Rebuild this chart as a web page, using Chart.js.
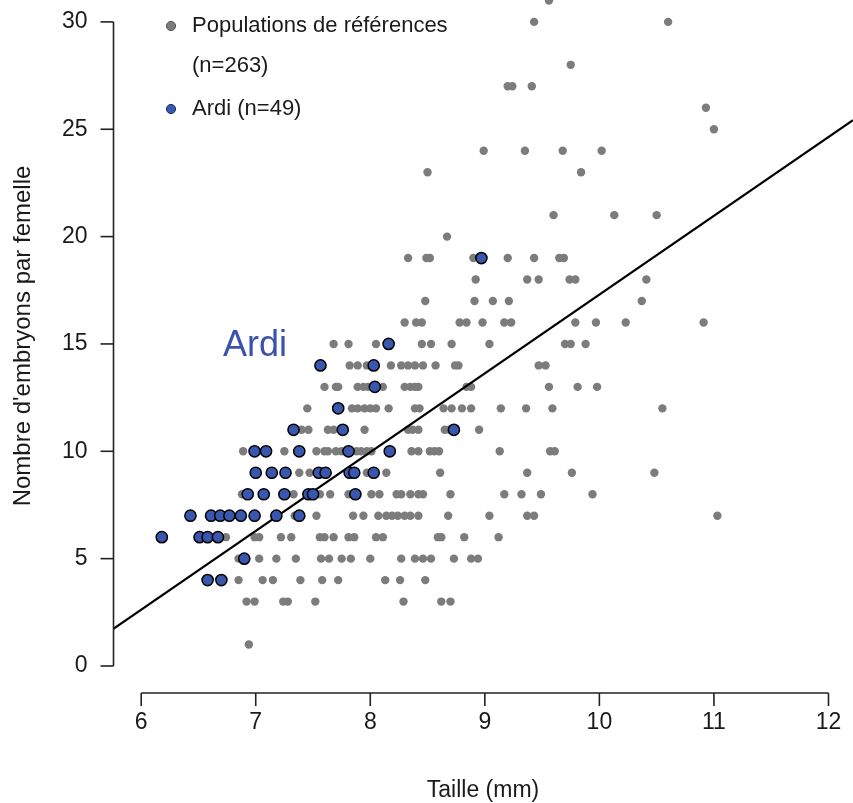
<!DOCTYPE html>
<html><head><meta charset="utf-8">
<script src="https://cdn.jsdelivr.net/npm/chart.js@4/dist/chart.umd.min.js"></script>
<style>html,body{margin:0;padding:0;background:#fff;}canvas{display:block;}</style>
</head><body>
<canvas id="c" width="853" height="803"></canvas>
<script>
const xTicks = [6, 7, 8, 9, 10, 11, 12];
const yTicks = [0, 5, 10, 15, 20, 25, 30];
const xTitle = 'Taille (mm)';
const yTitle = "Nombre d'embryons par femelle";
const legendRef = ['Populations de références', '(n=263)'];
const legendArdi = 'Ardi (n=49)';
const annotationText = 'Ardi';

// Reference populations (grey): size (mm) and embryos per female
const refSize = [
  9.56,
  9.43, 10.6,
  9.75,
  9.2, 9.24, 9.41,
  10.93,
  11.0,
  8.99, 9.35, 9.68, 10.02,
  8.5, 9.84,
  9.6, 10.13, 10.5,
  8.67,
  8.33, 8.49, 8.52, 8.9, 9.2, 9.43, 9.65, 9.69,
  8.92, 9.37, 9.47, 9.74, 9.79, 10.41,
  8.48, 8.91, 9.07, 9.21, 10.37,
  8.3, 8.40, 8.45, 8.78, 8.84, 8.98, 9.17, 9.23, 9.79, 9.97, 10.23, 10.91,
  7.68, 7.81, 8.05, 8.45, 8.53, 8.71, 9.04, 9.70, 9.75, 9.88,
  7.82, 7.89, 7.97, 8.0, 8.18, 8.27, 8.33, 8.39, 8.46, 8.57, 8.74, 8.77, 9.47, 9.53,
  7.6, 7.70, 7.72, 7.89, 7.94, 7.98, 8.11, 8.30, 8.35, 8.39, 8.42, 8.84, 8.88, 9.56, 9.81, 9.98,
  7.45, 7.84, 7.89, 7.95, 8.0, 8.05, 8.16, 8.39, 8.43, 8.64, 8.71, 8.80, 8.88, 9.14, 9.36, 9.59, 10.55,
  7.40, 7.46, 7.63, 7.68, 7.95, 8.33, 8.37, 8.42, 8.65, 8.69, 8.95,
  6.89, 7.25, 7.53, 7.60, 7.63, 7.70, 7.75, 7.88, 7.92, 7.97, 8.01, 8.36, 8.42, 8.52, 8.56, 8.60, 9.13, 9.57, 9.61,
  7.38, 7.47, 7.97, 8.14, 8.61, 9.37, 9.76, 10.48,
  6.88, 7.33, 7.56, 7.65, 7.81, 8.01, 8.08, 8.23, 8.27, 8.35, 8.42, 8.46, 8.70, 9.17, 9.32, 9.49, 9.94,
  7.34, 7.53, 7.85, 7.94, 8.07, 8.14, 8.19, 8.24, 8.30, 8.35, 8.42, 8.68, 9.04, 9.37, 9.43, 11.03,
  6.74, 6.99, 7.03, 7.22, 7.31, 7.56, 7.60, 7.68, 7.81, 7.86, 8.05, 8.11, 8.59, 8.62, 8.82, 9.12,
  6.85, 7.03, 7.18, 7.35, 7.57, 7.64, 7.75, 7.83, 8.0, 8.27, 8.39, 8.46, 8.53, 8.73, 8.88, 8.94,
  6.85, 7.06, 7.15, 7.39, 7.58, 7.72, 8.13, 8.26, 8.48,
  6.92, 6.99, 7.24, 7.28, 7.52, 8.29, 8.62, 8.70,
  6.94
];
const refEmbryos = [
  31,
  30, 30,
  28,
  27, 27, 27,
  26,
  25,
  24, 24, 24, 24,
  23, 23,
  21, 21, 21,
  20,
  19, 19, 19, 19, 19, 19, 19, 19,
  18, 18, 18, 18, 18, 18,
  17, 17, 17, 17, 17,
  16, 16, 16, 16, 16, 16, 16, 16, 16, 16, 16, 16,
  15, 15, 15, 15, 15, 15, 15, 15, 15, 15,
  14, 14, 14, 14, 14, 14, 14, 14, 14, 14, 14, 14, 14, 14,
  13, 13, 13, 13, 13, 13, 13, 13, 13, 13, 13, 13, 13, 13, 13, 13,
  12, 12, 12, 12, 12, 12, 12, 12, 12, 12, 12, 12, 12, 12, 12, 12, 12,
  11, 11, 11, 11, 11, 11, 11, 11, 11, 11, 11,
  10, 10, 10, 10, 10, 10, 10, 10, 10, 10, 10, 10, 10, 10, 10, 10, 10, 10, 10,
  9, 9, 9, 9, 9, 9, 9, 9,
  8, 8, 8, 8, 8, 8, 8, 8, 8, 8, 8, 8, 8, 8, 8, 8, 8,
  7, 7, 7, 7, 7, 7, 7, 7, 7, 7, 7, 7, 7, 7, 7, 7,
  6, 6, 6, 6, 6, 6, 6, 6, 6, 6, 6, 6, 6, 6, 6, 6,
  5, 5, 5, 5, 5, 5, 5, 5, 5, 5, 5, 5, 5, 5, 5, 5,
  4, 4, 4, 4, 4, 4, 4, 4, 4,
  3, 3, 3, 3, 3, 3, 3, 3,
  1
];

// Ardi (blue)
const ardiSize = [
  8.97,
  8.16,
  7.565, 8.03,
  8.04,
  7.72,
  7.33, 7.76, 8.73,
  6.99, 7.09, 7.38, 7.81, 8.17,
  7.0, 7.14, 7.26, 7.55, 7.61, 7.82, 7.86, 8.03,
  6.93, 7.07, 7.25, 7.46, 7.50, 7.87,
  6.43, 6.61, 6.69, 6.77, 6.87, 6.99, 7.18, 7.38,
  6.18, 6.51, 6.58, 6.67,
  6.90,
  6.58, 6.70
];
const ardiEmbryos = [
  19,
  15,
  14, 14,
  13,
  12,
  11, 11, 11,
  10, 10, 10, 10, 10,
  9, 9, 9, 9, 9, 9, 9, 9,
  8, 8, 8, 8, 8, 8,
  7, 7, 7, 7, 7, 7, 7, 7,
  6, 6, 6, 6,
  5,
  4, 4
];

// Linear fit: embryos = intercept + slope * size
const fitIntercept = -19.39;
const fitSlope = 3.669;

const X_MIN = 5.754, X_MAX = 12.214, Y_MIN = -1.258, Y_MAX = 31.02;

const toPts = (xs, ys) => xs.map((x, i) => ({ x: x, y: ys[i] }));
const fitLine = [X_MIN, X_MAX].map(x => ({ x: x, y: fitIntercept + fitSlope * x }));

const FONT = "'Liberation Sans', Arial, Helvetica, sans-serif";
const TEXT = '#1a1a1a';
const GREY = '#7c7c7c';
const BLUE = '#3a57b0';

const rAxes = {
  id: 'rAxes',
  afterDraw(chart) {
    const ctx = chart.ctx;
    const xs = chart.scales.x, ys = chart.scales.y;
    ctx.save();
    ctx.strokeStyle = '#222';
    ctx.lineWidth = 1.6;
    ctx.fillStyle = TEXT;
    // y axis
    const ax = chart.chartArea.left + 0.5;
    const y0 = ys.getPixelForValue(yTicks[0]), y1 = ys.getPixelForValue(yTicks[yTicks.length - 1]);
    ctx.beginPath(); ctx.moveTo(ax, y0); ctx.lineTo(ax, y1); ctx.stroke();
    ctx.font = '23px ' + FONT;
    ctx.textAlign = 'right'; ctx.textBaseline = 'middle';
    yTicks.forEach(t => {
      const p = ys.getPixelForValue(t);
      ctx.beginPath(); ctx.moveTo(ax, p); ctx.lineTo(ax - 13, p); ctx.stroke();
      ctx.fillText(String(t), ax - 26, p);
    });
    // x axis
    const ay = chart.chartArea.bottom;
    const x0 = xs.getPixelForValue(xTicks[0]), x1 = xs.getPixelForValue(xTicks[xTicks.length - 1]);
    ctx.beginPath(); ctx.moveTo(x0, ay); ctx.lineTo(x1, ay); ctx.stroke();
    ctx.textAlign = 'center'; ctx.textBaseline = 'middle';
    xTicks.forEach(t => {
      const p = xs.getPixelForValue(t);
      ctx.beginPath(); ctx.moveTo(p, ay); ctx.lineTo(p, ay + 13); ctx.stroke();
      ctx.fillText(String(t), p, ay + 30);
    });
    // titles
    const midX = (chart.chartArea.left + chart.chartArea.right) / 2;
    ctx.fillText(xTitle, midX, ay + 98);
    ctx.save();
    ctx.font = '24px ' + FONT;
    ctx.translate(23, 336);
    ctx.rotate(-Math.PI / 2);
    ctx.fillText(yTitle, 0, 0);
    ctx.restore();
    // legend
    ctx.textAlign = 'left'; ctx.textBaseline = 'middle';
    ctx.font = '22px ' + FONT;
    ctx.beginPath(); ctx.arc(171, 26, 4.6, 0, 2 * Math.PI);
    ctx.fillStyle = GREY; ctx.fill();
    ctx.lineWidth = 1; ctx.strokeStyle = '#555'; ctx.stroke();
    ctx.fillStyle = TEXT;
    ctx.fillText(legendRef[0], 192, 26);
    ctx.fillText(legendRef[1], 192, 66);
    ctx.beginPath(); ctx.arc(171, 109, 4.6, 0, 2 * Math.PI);
    ctx.fillStyle = BLUE; ctx.fill();
    ctx.strokeStyle = '#1b2a66'; ctx.stroke();
    ctx.fillStyle = TEXT;
    ctx.fillText(legendArdi, 192, 109);
    // annotation
    ctx.font = '36px ' + FONT;
    ctx.fillStyle = '#3b52ad';
    ctx.fillText(annotationText, 223, 346);
    ctx.restore();
  }
};

new Chart(document.getElementById('c'), {
  type: 'scatter',
  data: {
    datasets: [
      { label: 'Ardi', data: toPts(ardiSize, ardiEmbryos), order: 0,
        backgroundColor: BLUE, borderColor: '#000', borderWidth: 1.5, pointRadius: 5.6 },
      { type: 'line', label: 'fit', data: fitLine, order: 1,
        borderColor: '#000', borderWidth: 2.2, pointRadius: 0, fill: false },
      { label: 'Populations', data: toPts(refSize, refEmbryos), order: 2,
        backgroundColor: GREY, borderWidth: 0, pointRadius: 4.2 }
    ]
  },
  options: {
    responsive: false,
    animation: false,
    events: [],
    layout: { autoPadding: false, padding: { left: 113, right: 0, top: 0, bottom: 110 } },
    scales: {
      x: { type: 'linear', min: X_MIN, max: X_MAX, display: false },
      y: { type: 'linear', min: Y_MIN, max: Y_MAX, display: false }
    },
    plugins: { legend: { display: false }, tooltip: { enabled: false } }
  },
  plugins: [rAxes]
});
</script>
</body></html>
